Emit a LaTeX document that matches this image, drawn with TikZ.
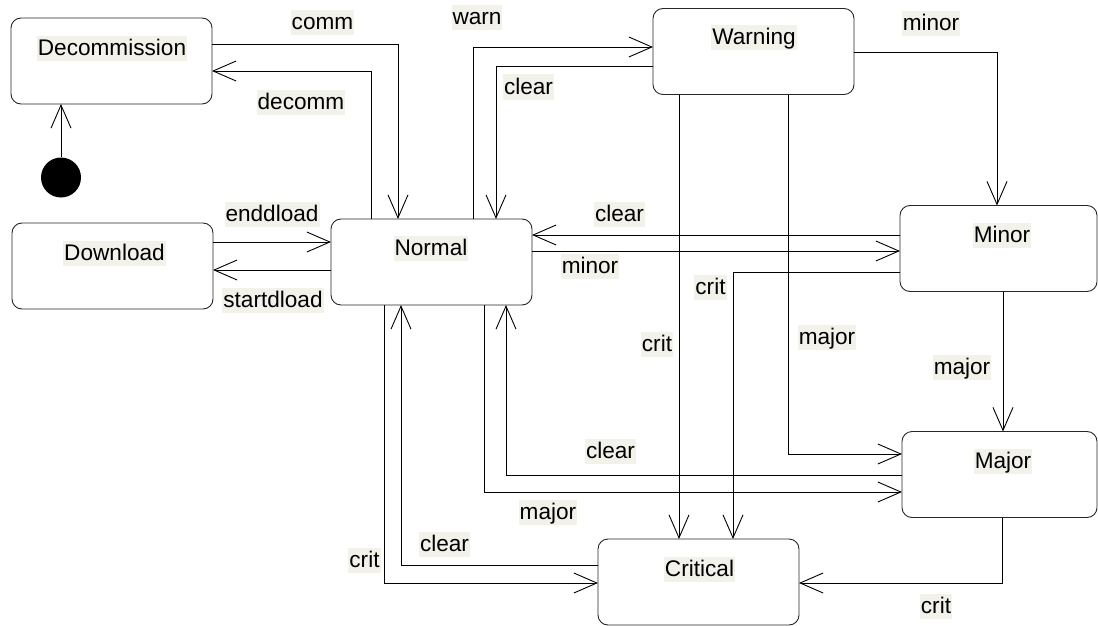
\documentclass[tikz,border=0pt]{standalone}
\usepackage{fontspec}
\setmainfont{Liberation Sans}
\usetikzlibrary{arrows.meta}
\definecolor{lblbg}{RGB}{242,242,235}
\begin{document}
\begin{tikzpicture}[x=1pt,y=-1pt,
  state/.style={draw=black!85, line width=0.9pt, rounded corners=10pt, minimum width=201pt, minimum height=86pt, inner sep=0pt, outer sep=0pt},
  lbl/.style={fill=lblbg, font=\fontsize{22.6}{26}\selectfont, inner xsep=1pt, inner ysep=0.5pt, text height=19pt, text depth=5pt},
  tr/.style={draw=black, line width=0.9pt, -{Straight Barb[length=23pt,width=20pt]}}
]
\useasboundingbox (0,0) rectangle (1098,626);
% states
\node[state] (dec) at (111.5,61) {};
\node[state] (dl)  at (112.5,266) {};
\node[state] (nor) at (431.5,262) {};
\node[state] (war) at (753.5,51.5) {};
\node[state, minimum width=197pt] (min) at (998.5,248.5) {};
\node[state, minimum width=195pt] (maj) at (999.5,474.5) {};
\node[state] (cri) at (698.5,582) {};
\node[circle, fill=black, minimum size=40pt, inner sep=0pt] (dot) at (61,177.5) {};
% state names
\node[lbl] (decT) at (112,48.5) {Decommission};
\node[lbl] (dlT)  at (114.5,253) {Download};
\node[lbl] (norT) at (431,248) {Normal};
\node[lbl] (warT) at (754,38) {Warning};
\node[lbl] (minT) at (1002,235) {Minor};
\node[lbl] (majT) at (1003,461) {Major};
\node[lbl] (criT) at (699.5,569) {Critical};
% transitions
\draw[tr] (dot.north) -- (dot.north |- dec.south);
\draw[tr] (dec.east |- 0,44) -| (398,0 |- nor.north) node[lbl] at (322.5,22.5) {comm};
\draw[tr] (371,0 |- nor.north) |- (dec.east |- 0,71) node[lbl] at (301,102.5) {decomm};
\draw[tr] (dl.east |- 0,242) -- (nor.west |- 0,242) node[lbl] at (272,214) {enddload};
\draw[tr] (nor.west |- 0,270) -- (dl.east |- 0,270) node[lbl] at (273,300) {startdload};
\draw[tr] (473,0 |- nor.north) |- (war.west |- 0,47) node[lbl] at (477,18) {warn};
\draw[tr] (war.west |- 0,66) -| (496,0 |- nor.north) node[lbl] at (528.5,87) {clear};
\draw[tr] (war.east |- 0,52) -| (997,0 |- min.north) node[lbl] at (931,24) {minor};
\draw[tr] (min.west |- 0,235) -- (nor.east |- 0,235) node[lbl] at (619.5,214) {clear};
\draw[tr] (nor.east |- 0,251) -- (min.west |- 0,251) node[lbl] at (590,266) {minor};
\draw[tr] (min.west |- 0,272) -| (733,0 |- cri.north) node[lbl] at (710.5,287) {crit};
\draw[tr] (679,0 |- war.south) -- (679,0 |- cri.north) node[lbl] at (657,344) {crit};
\draw[tr] (788,0 |- war.south) |- (maj.west |- 0,454) node[lbl] at (827,337) {major};
\draw[tr] (1003,0 |- min.south) -- (1003,0 |- maj.north) node[lbl] at (962,367.5) {major};
\draw[tr] (maj.west |- 0,475) -| (506,0 |- nor.south) node[lbl] at (610.5,451) {clear};
\draw[tr] (484,0 |- nor.south) |- (maj.west |- 0,492) node[lbl] at (548,512) {major};
\draw[tr] (1002,0 |- maj.south) |- (cri.east |- 0,583) node[lbl] at (936,606) {crit};
\draw[tr] (cri.west |- 0,565) -| (401,0 |- nor.south) node[lbl] at (444.5,544) {clear};
\draw[tr] (384,0 |- nor.south) |- (cri.west |- 0,583) node[lbl] at (364.5,560) {crit};
\end{tikzpicture}
\end{document}
